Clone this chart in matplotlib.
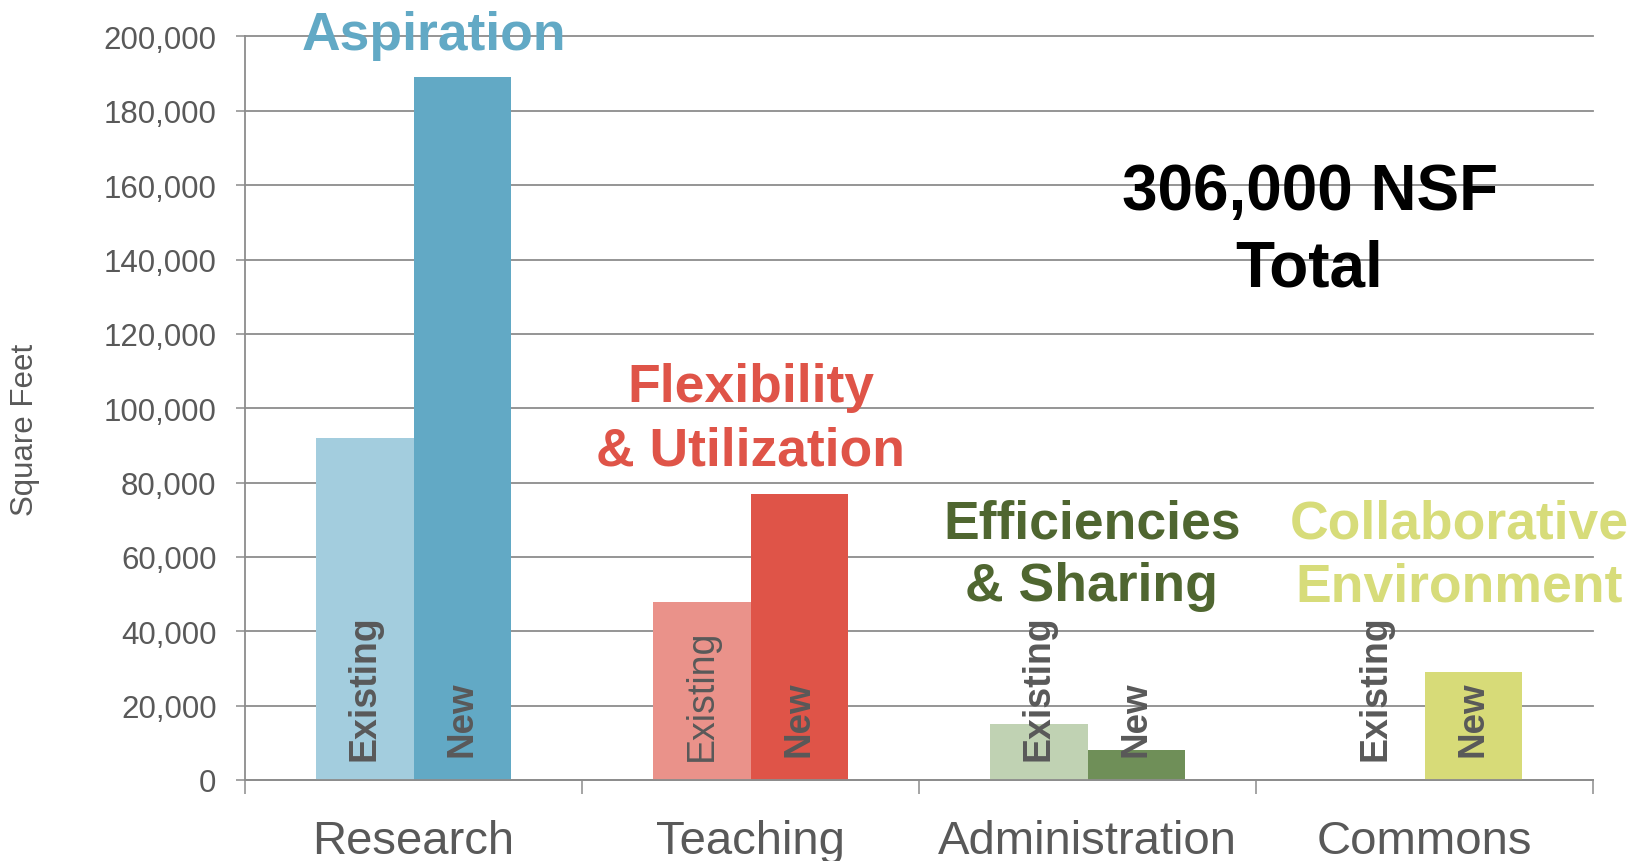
import matplotlib
matplotlib.use("Agg")
import matplotlib.pyplot as plt
import numpy as np
from matplotlib.ticker import FuncFormatter, FixedLocator

plt.rcParams['font.family'] = ['Liberation Sans', 'DejaVu Sans']

# Space program by category (net square feet)
categories = ["Research", "Teaching", "Administration", "Commons"]
existing_sf = [92000, 48000, 15000, 0]
new_sf = [189000, 77000, 8000, 29000]
bar_labels = ["Existing", "New"]
group_titles = [["Aspiration"],
                ["Flexibility", "& Utilization"],
                ["Efficiencies", "& Sharing"],
                ["Collaborative", "Environment"]]
total_text = ["306,000 NSF", "Total"]
y_ticks = [0, 20000, 40000, 60000, 80000, 100000, 120000, 140000, 160000, 180000, 200000]

existing_colors = ["#A3CDDE", "#EA928A", "#C0D2B3", "#D7DB78"]
new_colors = ["#62A9C5", "#DF5448", "#6F8F58", "#D7DB78"]
title_colors = ["#62A9C5", "#DF5448", "#4F6630", "#D7DC7A"]
grey_text = "#595959"
grid_grey = "#8C8C8C"

fig = plt.figure(figsize=(16.33, 8.62), dpi=100)
ax = fig.add_axes([0.15003, 0.09397, 0.82548, 0.86253])

x = np.arange(len(categories))
w = 0.289
ax.bar(x - w / 2, existing_sf, width=w, color=existing_colors, zorder=2)
ax.bar(x + w / 2, new_sf, width=w, color=new_colors, zorder=2)

# Rotated bar captions
for i in range(len(categories)):
    ex_weight = "normal" if categories[i] == "Teaching" else "bold"
    ax.text(x[i] - w / 2, 5500, bar_labels[0], rotation=90, ha="center",
            va="bottom", fontsize=27, fontweight=ex_weight, color=grey_text, zorder=4)
    ax.text(x[i] + w / 2, 6500, bar_labels[1], rotation=90, ha="center",
            va="bottom", fontsize=26.5, fontweight="bold", color=grey_text, zorder=4)

# Theme headings above each category
title_pos = [(0.061, 196600), (1.0, 101900), (2.013, 65360), (3.102, 65360)]
line_step = 17000
for (tx, ty), lines, col in zip(title_pos, group_titles, title_colors):
    for k, line in enumerate(lines):
        ax.text(tx, ty - k * line_step, line, ha="center", va="baseline",
                fontsize=38.5, fontweight="bold", color=col, zorder=4, clip_on=False)

# Program total
ax.text(2.659, 153580, total_text[0], ha="center", va="baseline",
        fontsize=46, fontweight="bold", color="black", zorder=4)
ax.text(2.659, 132950, total_text[1], ha="center", va="baseline",
        fontsize=46, fontweight="bold", color="black", zorder=4)

# Axes styling
ax.set_xlim(-0.5, len(categories) - 0.5)
ax.set_ylim(0, 200000)
ax.set_yticks(y_ticks)
ax.yaxis.set_major_formatter(FuncFormatter(lambda v, p: f"{v:,.0f}"))
ax.set_xticks(x)
ax.set_xticklabels(categories)
ax.xaxis.set_minor_locator(FixedLocator(np.arange(-0.5, len(categories), 1.0)))

ax.tick_params(axis="x", which="major", length=0, pad=28, labelsize=34, labelcolor=grey_text)
ax.tick_params(axis="x", which="minor", length=10, width=1.1, color=grid_grey)
ax.tick_params(axis="y", which="major", length=6.5, width=1.1, color=grid_grey,
               pad=14, labelsize=22.5, labelcolor=grey_text)

ax.yaxis.grid(True, color=grid_grey, linewidth=1.3, zorder=1)
ax.set_axisbelow(True)
for gl in ax.get_ygridlines():
    gl.set_clip_on(False)

for side in ("top", "right"):
    ax.spines[side].set_visible(False)
for side in ("left", "bottom"):
    ax.spines[side].set_color(grid_grey)
    ax.spines[side].set_linewidth(1.3)

fig.text(25 / 1633, 1 - 430 / 862, "Square Feet", rotation=90, ha="center", va="center",
         fontsize=22.5, color=grey_text)

fig.savefig("out.png", dpi=100, facecolor="white")
